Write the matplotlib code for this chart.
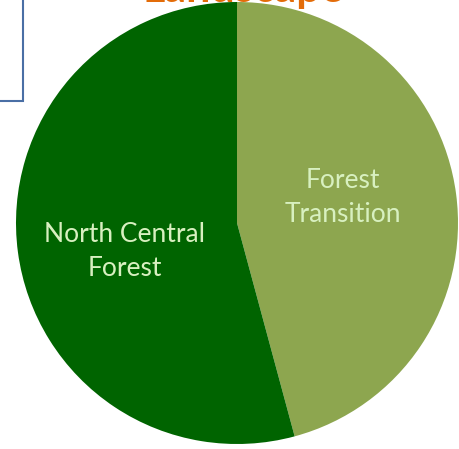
import matplotlib.pyplot as plt
from matplotlib.patches import Rectangle

# slice data (share of landscape), clockwise from the top
regions = ['Forest\nTransition', 'North Central\nForest']
shares = [45.8, 54.2]
colors = ['#8DA64F', '#006400']
title = 'Landscape'

W, H = 459, 449
fig = plt.figure(figsize=(W / 100, H / 100), dpi=100)
ax = fig.add_axes([0, 0, 1, 1])

ax.pie(shares, colors=colors, startangle=90, counterclock=False,
       center=(237, 226), radius=221, frame=True,
       wedgeprops=dict(linewidth=0))
ax.set_xlim(0, W)
ax.set_ylim(0, H)
ax.set_aspect('equal')
ax.axis('off')

# slice labels
label_pos = [(343, H - 198), (125, H - 251)]
for txt, (x, y) in zip(regions, label_pos):
    ax.text(x, y, txt, ha='center', va='center', color='#D8F0C0',
            fontsize=19, family='Lato', linespacing=1.45)

# title, mostly cut off by the top edge
ax.text(243, H - 2, title, ha='center', va='baseline', color='#E36C09',
        fontsize=31, fontweight='bold', family='Lato')

# box at the top left
ax.add_patch(Rectangle((-5, H - 101), 28, 110, fill=False,
                       edgecolor='#4A6FA5', linewidth=1.5, clip_on=False))

fig.savefig('out.png', dpi=100)
